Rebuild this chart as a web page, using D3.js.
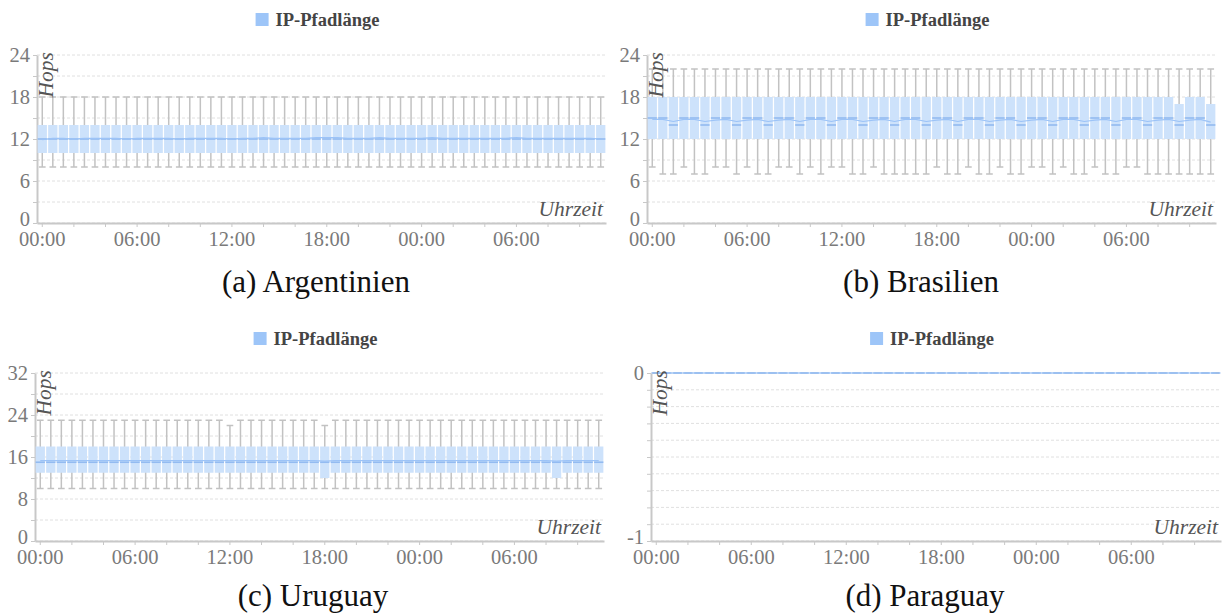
<!DOCTYPE html>
<html lang="de">
<head>
<meta charset="UTF-8">
<title>IP-Pfadlänge</title>
<script src="https://d3js.org/d3.v7.min.js"></script>
<style>
  body{margin:0;background:#fff;}
  svg{display:block;}
  .axis .domain{stroke:#c8c8c8;stroke-width:2;}
  .axis .tick line{stroke:#c8c8c8;stroke-width:1;}
  .axis .tick text{font-family:"Liberation Serif",serif;font-size:20.5px;fill:#7a7a7a;}
  .grid line{stroke:#e0e0e0;stroke-width:1;stroke-dasharray:3,2;}
  .lab{font-family:"Liberation Serif",serif;font-style:italic;font-size:21.5px;fill:#555;}
  .legend text{font-family:"Liberation Serif",serif;font-weight:bold;font-size:18.5px;fill:#444;}
  .caption{font-family:"Liberation Serif",serif;font-size:31px;fill:#111;}
</style>
</head>
<body>
<svg id="chart" width="1224" height="615"></svg>
<script>
// 54 slots of 40 minutes, starting at 00:00
const slots = d3.range(54);
const xTickLabels = ["00:00", "06:00", "12:00", "18:00", "00:00", "06:00"];
const seriesName = "IP-Pfadlänge";

// (a) Argentinien
const argMin  = [8,8,8,8,8,8,8,8,8,8,8,8,8,8,8,8,8,8,8,8,8,8,8,8,8,8,8,8,8,8,8,8,8,8,8,8,8,8,8,8,8,8,8,8,8,8,8,8,8,8,8,8,8,8];
const argQ1   = [10,10,10,10,10,10,10,10,10,10,10,10,10,10,10,10,10,10,10,10,10,10,10,10,10,10,10,10,10,10,10,10,10,10,10,10,10,10,10,10,10,10,10,10,10,10,10,10,10,10,10,10,10,10];
const argMed  = [12,12,12,12,12,12,12,12,12,12,12,12,12,12,12,12,12,12,12,12,12,12,12,12,12,12,12,12,12,12,12,12,12,12,12,12,12,12,12,12,12,12,12,12,12,12,12,12,12,12,12,12,12,12];
const argQ3   = [14,14,14,14,14,14,14,14,14,14,14,14,14,14,14,14,14,14,14,14,14,14,14,14,14,14,14,14,14,14,14,14,14,14,14,14,14,14,14,14,14,14,14,14,14,14,14,14,14,14,14,14,14,14];
const argMax  = [18,18,18,18,18,18,18,18,18,18,18,18,18,18,18,18,18,18,18,18,18,18,18,18,18,18,18,18,18,18,18,18,18,18,18,18,18,18,18,18,18,18,18,18,18,18,18,18,18,18,18,18,18,18];
const argMean = [11.9,12.1,12.1,12.0,12.1,12.1,12.1,12.1,12.0,12.1,12.1,12.1,12.1,12.0,12.1,12.1,12.1,12.1,12.0,12.1,12.1,12.2,12.1,12.1,12.1,12.1,12.2,12.2,12.2,12.1,12.1,12.1,12.2,12.1,12.1,12.1,12.1,12.2,12.1,12.1,12.1,12.1,12.1,12.1,12.1,12.2,12.1,12.1,12.1,12.1,12.1,12.1,12.1,12.0];

// (b) Brasilien
const braMin  = [8,7,7,8,7,7,8,8,7,8,7,7,8,8,7,8,7,8,8,7,7,8,7,7,7,7,7,8,7,7,8,7,7,8,7,7,8,8,7,8,7,7,8,7,7,8,8,7,7,7,7,7,7,7];
const braQ1   = [12,12,12,12,12,12,12,12,12,12,12,12,12,12,12,12,12,12,12,12,12,12,12,12,12,12,12,12,12,12,12,12,12,12,12,12,12,12,12,12,12,12,12,12,12,12,12,12,12,12,12,12,12,12];
const braMed  = [15,15,14,15,15,14,15,15,14,15,15,14,15,15,14,15,15,14,15,15,14,15,15,14,15,15,14,15,15,14,15,15,14,15,15,14,15,15,14,15,15,14,15,15,14,15,15,14,15,15,14,15,15,14];
const braQ3   = [18,18,18,18,18,18,18,18,18,18,18,18,18,18,18,18,18,18,18,18,18,18,18,18,18,18,18,18,18,18,18,18,18,18,18,18,18,18,18,18,18,18,18,18,18,18,18,18,18,18,17,18,18,17];
const braMax  = [22,22,22,22,22,22,22,22,22,22,22,22,22,22,22,22,22,22,22,22,22,22,22,22,22,22,22,22,22,22,22,22,22,22,22,22,22,22,22,22,22,22,22,22,22,22,22,22,22,22,22,22,22,22];
const braMean = [14.8,14.8,14.5,14.8,14.8,14.5,14.7,14.8,14.5,14.7,14.8,14.5,14.7,14.8,14.5,14.8,14.8,14.5,14.8,14.8,14.5,14.7,14.8,14.5,14.8,14.8,14.5,14.7,14.8,14.5,14.8,14.8,14.5,14.7,14.8,14.5,14.7,14.8,14.5,14.8,14.8,14.5,14.7,14.8,14.5,14.8,14.8,14.5,14.7,14.8,14.5,14.7,14.8,14.4];

// (c) Uruguay
const uruMin  = [10,10,10,10,10,10,10,10,10,10,10,10,10,10,10,10,10,10,10,10,10,10,10,10,10,10,10,10,10,10,10,10,10,10,10,10,10,10,10,10,10,10,10,10,10,10,10,10,10,10,10,10,10,10];
const uruQ1   = [13,13,13,13,13,13,13,13,13,13,13,13,13,13,13,13,13,13,13,13,13,13,13,13,13,13,13,12,13,13,13,13,13,13,13,13,13,13,13,13,13,13,13,13,13,13,13,13,13,12,13,13,13,13];
const uruMed  = [15,15,15,15,15,15,15,15,15,15,15,15,15,15,15,15,15,15,15,15,15,15,15,15,15,15,15,15,15,15,15,15,15,15,15,15,15,15,15,15,15,15,15,15,15,15,15,15,15,15,15,15,15,15];
const uruQ3   = [18,18,18,18,18,18,18,18,18,18,18,18,18,18,18,18,18,18,18,18,18,18,18,18,18,18,18,18,18,18,18,18,18,18,18,18,18,18,18,18,18,18,18,18,18,18,18,18,18,18,18,18,18,18];
const uruMax  = [23,23,23,23,23,23,23,23,23,23,23,23,23,23,23,23,23,23,22,23,23,23,23,23,23,23,23,22,23,23,23,23,23,23,23,23,23,23,23,23,23,23,23,23,23,23,23,23,23,23,23,23,23,23];
const uruMean = [15.3,15.3,15.3,15.3,15.3,15.3,15.3,15.3,15.3,15.3,15.3,15.3,15.3,15.3,15.3,15.3,15.3,15.3,15.3,15.3,15.3,15.3,15.3,15.3,15.3,15.3,15.3,15.2,15.3,15.3,15.3,15.3,15.3,15.3,15.3,15.3,15.3,15.3,15.3,15.3,15.3,15.3,15.3,15.3,15.3,15.3,15.3,15.3,15.3,15.2,15.3,15.3,15.3,15.3];

// (d) Paraguay: every statistic is 0 in every slot
const pryAll  = [0,0,0,0,0,0,0,0,0,0,0,0,0,0,0,0,0,0,0,0,0,0,0,0,0,0,0,0,0,0,0,0,0,0,0,0,0,0,0,0,0,0,0,0,0,0,0,0,0,0,0,0,0,0];

const panels = [
  {caption:"(a) Argentinien", min:argMin, q1:argQ1, med:argMed, q3:argQ3, max:argMax, mean:argMean,
   yDomain:[0,24], yGrid:d3.range(0,25,3), yLabels:[0,6,12,18,24],
   left:37, right:606, top:55, bottom:223, legendY:20, capX:316, capY:292},
  {caption:"(b) Brasilien", min:braMin, q1:braQ1, med:braMed, q3:braQ3, max:braMax, mean:braMean,
   yDomain:[0,24], yGrid:d3.range(0,25,3), yLabels:[0,6,12,18,24],
   left:647, right:1216, top:55, bottom:223, legendY:20, capX:921, capY:292},
  {caption:"(c) Uruguay", min:uruMin, q1:uruQ1, med:uruMed, q3:uruQ3, max:uruMax, mean:uruMean,
   yDomain:[0,32], yGrid:d3.range(0,33,4), yLabels:[0,8,16,24,32],
   left:35, right:604, top:373, bottom:541, legendY:339, capX:313, capY:606},
  {caption:"(d) Paraguay", min:pryAll, q1:pryAll, med:pryAll, q3:pryAll, max:pryAll, mean:pryAll,
   yDomain:[-1,0], yGrid:d3.ticks(-1,0,10), yLabels:[-1,0],
   left:651, right:1221, top:373, bottom:541, legendY:339, capX:925, capY:606}
];

const svg = d3.select("#chart");
svg.append("rect").attr("width",1224).attr("height",615).attr("fill","#fff");

const boxFill = "#cde2fb", legendFill = "#9dc5f8", medColor = "#93bbf1", meanColor = "#9cc3f7";
const whiskerColor = "#c2c2c2";

const drawPanel = (p) => {
  const g = svg.append("g");

  const x = d3.scaleBand()
    .domain(slots)
    .range([p.left, p.right])
    .paddingInner(0.12)
    .paddingOuter(0.06);
  const cx = i => x(i) + x.bandwidth() / 2;
  const y = d3.scaleLinear().domain(p.yDomain).range([p.bottom, p.top]);

  // grid
  g.append("g").attr("class","grid")
    .selectAll("line")
    .data(p.yGrid)
    .enter().append("line")
    .attr("x1", p.left).attr("x2", p.right)
    .attr("y1", d => y(d)).attr("y2", d => y(d));

  // axes
  const isLabel = v => p.yLabels.some(l => Math.abs(l - v) < 1e-9);
  const yAx = g.append("g").attr("class","axis")
    .attr("transform","translate(" + p.left + ",0)")
    .call(d3.axisLeft(y).tickValues(p.yGrid).tickSize(4).tickSizeOuter(0).tickPadding(3)
      .tickFormat(v => isLabel(v) ? String(Math.round(v)) : ""));
  // lowest label sits just above the time labels
  yAx.selectAll(".tick text").filter(v => v === p.yDomain[0]).attr("dy", "0.12em");
  g.append("g").attr("class","axis")
    .attr("transform","translate(0," + p.bottom + ")")
    .call(d3.axisBottom(x).tickValues(slots.filter(i => i % 3 === 0)).tickSize(4).tickSizeOuter(0).tickPadding(4)
      .tickFormat(i => i % 9 === 0 ? xTickLabels[i / 9] : ""));

  // whiskers
  const half = x.bandwidth() * 0.36;
  const wg = g.append("g").attr("stroke", whiskerColor).attr("stroke-width", 1.5);
  wg.selectAll("line.w").data(slots).enter().append("line")
    .attr("x1", cx).attr("x2", cx)
    .attr("y1", i => y(p.min[i])).attr("y2", i => y(p.max[i]));
  wg.selectAll("line.cmax").data(slots).enter().append("line")
    .attr("x1", i => cx(i) - half).attr("x2", i => cx(i) + half)
    .attr("y1", i => y(p.max[i])).attr("y2", i => y(p.max[i]));
  wg.selectAll("line.cmin").data(slots).enter().append("line")
    .attr("x1", i => cx(i) - half).attr("x2", i => cx(i) + half)
    .attr("y1", i => y(p.min[i])).attr("y2", i => y(p.min[i]));

  // boxes
  g.append("g").selectAll("rect").data(slots).enter().append("rect")
    .attr("x", i => x(i))
    .attr("width", x.bandwidth())
    .attr("y", i => y(p.q3[i]))
    .attr("height", i => y(p.q1[i]) - y(p.q3[i]))
    .attr("fill", boxFill);

  // medians
  g.append("g").attr("stroke", medColor).attr("stroke-width", 1.6)
    .selectAll("line").data(slots).enter().append("line")
    .attr("x1", i => x(i)).attr("x2", i => x(i) + x.bandwidth())
    .attr("y1", i => y(p.med[i])).attr("y2", i => y(p.med[i]));

  // mean line
  g.append("path")
    .datum(slots)
    .attr("fill","none")
    .attr("stroke", meanColor)
    .attr("stroke-width", 1.2)
    .attr("d", d3.line().x(cx).y(i => y(p.mean[i])));

  // axis titles
  g.append("text").attr("class","lab")
    .attr("transform","translate(" + (p.left + 16) + "," + (p.top - 3) + ") rotate(-90)")
    .attr("text-anchor","end")
    .text("Hops");
  g.append("text").attr("class","lab")
    .attr("x", p.right - 3).attr("y", p.bottom - 7)
    .attr("text-anchor","end")
    .text("Uhrzeit");

  // legend
  const lg = g.append("g").attr("class","legend");
  const lt = lg.append("text").attr("y", p.legendY + 6).text(seriesName);
  const tw = lt.node().getComputedTextLength();
  const total = 13 + 7 + tw;
  const lx = (p.left + p.right) / 2 - 4 - total / 2;
  lg.append("rect").attr("x", lx).attr("y", p.legendY - 7).attr("width", 13).attr("height", 13).attr("fill", legendFill);
  lt.attr("x", lx + 20);

  // caption
  svg.append("text").attr("class","caption")
    .attr("x", p.capX).attr("y", p.capY)
    .attr("text-anchor","middle")
    .text(p.caption);
};

panels.forEach(drawPanel);
</script>
</body>
</html>
